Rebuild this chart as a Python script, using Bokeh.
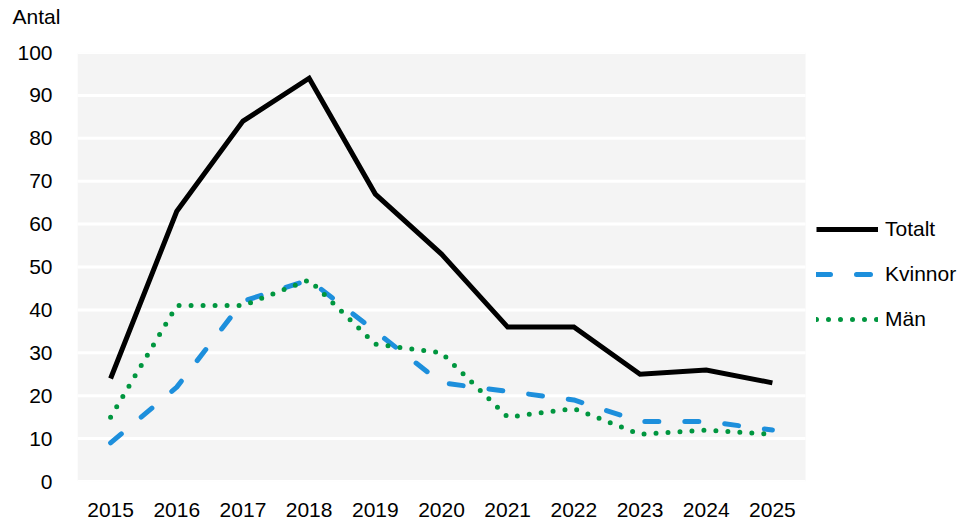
from bokeh.plotting import figure
from bokeh.models import (Legend, LegendItem, FixedTicker, ColumnDataSource,
                          Range1d, BoxAnnotation, Title)
from bokeh.embed import file_html
from bokeh.resources import INLINE

years = ["2015", "2016", "2017", "2018", "2019", "2020", "2021", "2022", "2023", "2024", "2025"]
totalt = [24, 63, 84, 94, 67, 53, 36, 36, 25, 26, 23]
kvinnor = [9, 22, 42, 47, 35, 23, 21, 19, 14, 14, 12]
man = [15, 41, 41, 47, 32, 30, 15, 17, 11, 12, 11]
y_ticks = list(range(0, 101, 10))

FONT = "Liberation Sans"
W, H = 957, 519
LEFT, TOP, BOTTOM = 77, 52, 37
PLOT_W = 728                      # width of the grey plot area in px
n = len(years)
xs = list(range(n))
px_per_cat = PLOT_W / n
x_end = -0.5 + (W - LEFT) / px_per_cat

p = figure(width=W, height=H, x_range=Range1d(-0.5, x_end), y_range=(0, 100),
           output_backend="svg", toolbar_location=None, title=None,
           min_border_left=LEFT, min_border_right=0, min_border_top=TOP,
           min_border_bottom=BOTTOM)
p.background_fill_color = "white"
p.border_fill_color = "white"
p.outline_line_color = None
p.xgrid.grid_line_color = None
p.ygrid.grid_line_color = None

# grey plot area and white horizontal gridlines limited to the categories
p.add_layout(BoxAnnotation(left=-0.5, right=n - 0.5, fill_color="#f4f4f4", fill_alpha=1,
                           line_color=None, level="underlay"))
p.segment(x0=[-0.5] * len(y_ticks), x1=[n - 0.5] * len(y_ticks), y0=y_ticks, y1=y_ticks,
          line_color="white", line_width=3)

# "Antal" heading: spacer panel next to the frame, then the text panel above it
p.add_layout(Title(text=" ", text_font_size="10px", standoff=12), "above")
p.add_layout(Title(text="Antal", text_font=FONT, text_font_size="21px",
                   text_font_style="normal", text_color="black", align="left",
                   offset=-65, standoff=0, vertical_align="bottom"), "above")

for ax in (p.xaxis[0], p.yaxis[0]):
    ax.axis_line_color = None
    ax.major_tick_line_color = None
    ax.minor_tick_line_color = None
    ax.major_label_text_font = FONT
    ax.major_label_text_font_size = "21px"
    ax.major_label_text_color = "black"
p.yaxis.ticker = FixedTicker(ticks=y_ticks)
p.yaxis.major_label_standoff = 19
p.xaxis.ticker = FixedTicker(ticks=xs)
p.xaxis.major_label_overrides = {i: y for i, y in zip(xs, years)}
p.xaxis.major_label_standoff = 15

src = ColumnDataSource(dict(x=xs, t=totalt, k=kvinnor, m=man))
r1 = p.line("x", "t", source=src, line_color="black", line_width=5, line_join="miter")
r2 = p.line("x", "k", source=src, line_color="#1d8fdc", line_width=5,
            line_dash="14 26", line_cap="round")
r3 = p.line("x", "m", source=src, line_color="#00963f", line_width=5,
            line_dash="0 12", line_cap="round")

legend = Legend(items=[LegendItem(label="Totalt", renderers=[r1]),
                       LegendItem(label="Kvinnor", renderers=[r2]),
                       LegendItem(label="Män", renderers=[r3])],
                location=(739, 150), orientation="vertical",
                glyph_width=62, glyph_height=20, label_height=20,
                spacing=21, label_standoff=7, padding=0, margin=0,
                border_line_color=None, background_fill_alpha=0,
                label_text_font=FONT, label_text_font_size="21px",
                label_text_color="black")
p.add_layout(legend, "center")

open("out.html", "w").write(file_html(p, INLINE))
